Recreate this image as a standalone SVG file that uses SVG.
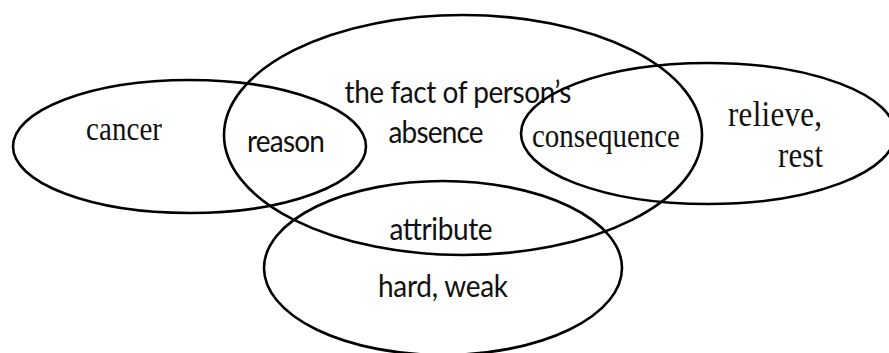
<svg xmlns="http://www.w3.org/2000/svg" width="889" height="353" viewBox="0 0 889 353">
<style>
.e{fill:none;stroke:#000;stroke-width:2.6}
.s{font-family:Lato,"Liberation Sans",sans-serif;fill:#111;font-size:28px}
.r{font-family:"Liberation Serif","Times New Roman",serif;fill:#111}
</style>
<rect width="889" height="353" fill="#fff"/>
<g id="node-cancer">
<ellipse class="e" cx="189.5" cy="146.5" rx="176.5" ry="66.5"/>
<text class="r" transform="translate(124 140) scale(1 1.18)" font-size="29" text-anchor="middle" textLength="76">cancer</text>
</g>
<g id="node-absence">
<ellipse class="e" cx="463" cy="135" rx="239" ry="120"/>
<text class="s" transform="translate(458 103) scale(1 1.08)" text-anchor="middle" textLength="227">the fact of person’s</text>
<text class="s" transform="translate(436 143) scale(1 1.08)" text-anchor="middle" textLength="95">absence</text>
<text class="s" transform="translate(286 152) scale(1 1.08)" text-anchor="middle" textLength="78">reason</text>
<text class="s" transform="translate(441 240) scale(1 1.08)" text-anchor="middle" textLength="103">attribute</text>
</g>
<g id="node-relieve">
<ellipse class="e" cx="708" cy="133.5" rx="187" ry="70.5"/>
<text class="r" transform="translate(606 147) scale(1 1.18)" font-size="29" text-anchor="middle" textLength="148">consequence</text>
<text class="r" transform="translate(728 126) scale(1 1.18)" font-size="31" textLength="94">relieve,</text>
<text class="r" transform="translate(823 167) scale(1 1.18)" font-size="31" text-anchor="end" textLength="45">rest</text>
</g>
<g id="node-hard">
<ellipse class="e" cx="443" cy="268" rx="179" ry="87"/>
<text class="s" transform="translate(443 297) scale(1 1.08)" text-anchor="middle" textLength="130">hard, weak</text>
</g>
<g id="connectors"></g>
</svg>
